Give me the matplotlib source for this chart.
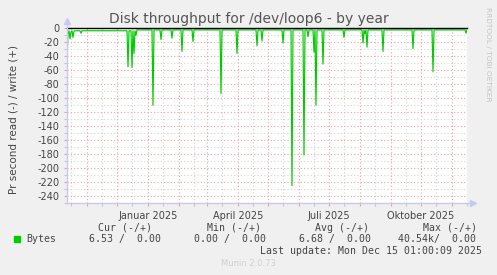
import matplotlib
matplotlib.use("Agg")
import matplotlib.pyplot as plt
import matplotlib.dates as mdates
from matplotlib.ticker import MultipleLocator, FuncFormatter
import numpy as np
import pandas as pd

W, H = 497, 275

# one value per day, read side (negative), write side is all zero
start_date = "2024-10-12"
end_date = "2025-11-16"
baseline_early = -3.5
baseline_late = -2.3
baseline_switch = "2024-12-21"

spike_dates = ["2024-10-12", "2024-10-13", "2024-10-15", "2024-10-16", "2024-10-18",
               "2024-10-19", "2024-10-26",
               "2024-12-12", "2024-12-16", "2024-12-18", "2024-12-20",
               "2025-01-06", "2025-01-14", "2025-01-25", "2025-02-04", "2025-02-15",
               "2025-03-15", "2025-03-31", "2025-04-20", "2025-04-25", "2025-05-16",
               "2025-05-25", "2025-06-06", "2025-06-10", "2025-06-16", "2025-06-18",
               "2025-06-25", "2025-07-16", "2025-08-04", "2025-08-06", "2025-08-08",
               "2025-08-24", "2025-09-23", "2025-10-13", "2025-11-15"]
spike_values = [-45, -8, -15, -5, -13,
                -4, -7,
                -55, -56, -36, -10,
                -110, -16, -14, -33, -19,
                -93, -36, -25, -18, -21,
                -225, -181, -12, -34, -110,
                -51, -13, -21, -8, -27,
                -33, -29, -62, -7]

quarter_names = {1: "Januar", 4: "April", 7: "Juli", 10: "Oktober"}
legend_headers = ["Cur (-/+)", "Min (-/+)", "Avg (-/+)", "Max (-/+)"]
legend_values = ["6.53 /  0.00", "0.00 /  0.00", "6.68 /  0.00", "40.54k/  0.00"]

days = pd.date_range(start_date, end_date, freq="D")
read = pd.Series(np.where(days < pd.Timestamp(baseline_switch), baseline_early, baseline_late), index=days)
read.loc[pd.to_datetime(spike_dates)] = spike_values

plt.rcParams["axes.unicode_minus"] = False
txt = "#444444"
axis_col = "#c8c8f4"

fig = plt.figure(figsize=(W / 100, H / 100), dpi=100, facecolor="#f0f0f0")
ax = fig.add_axes([67 / W, 1 - 203.3 / H, 400 / W, 175 / H])
ax.set_facecolor("white")

ax.plot(read.index, read.values, color="#00cc00", lw=0.85, zorder=3)
ax.axhline(0, color="black", lw=1.0, zorder=4, clip_on=False)

ax.set_xlim(pd.Timestamp(start_date), pd.Timestamp(end_date))
ax.set_ylim(-250, 0)

ax.xaxis.set_major_locator(mdates.MonthLocator())
ax.xaxis.set_minor_locator(mdates.MonthLocator(bymonthday=16))
ax.xaxis.set_major_formatter(FuncFormatter(
    lambda v, p: "%s %d" % (quarter_names[mdates.num2date(v).month], mdates.num2date(v).year)
    if mdates.num2date(v).month in quarter_names else ""))
ax.yaxis.set_major_locator(MultipleLocator(20))
ax.yaxis.set_minor_locator(MultipleLocator(10))
ax.yaxis.set_major_formatter(FuncFormatter(lambda v, p: "%d" % v if v >= -240 else ""))

ax.grid(which="major", color="#f0a0a0", lw=0.8, linestyle=(0, (1, 2)))
ax.grid(which="minor", color="#d4d4d4", lw=0.8, linestyle=(0, (1, 2)))
ax.set_axisbelow(True)

ax.tick_params(which="major", colors="#f0a0a0", length=2.5, width=0.8, labelcolor=txt, labelsize=7, pad=3)
ax.tick_params(which="minor", colors="#c8c8c8", length=2.5, width=0.8)
ax.tick_params(axis="x", pad=3)
for s in ax.spines.values():
    s.set_visible(False)

# axis lines with arrows
ax.plot([0, 0], [0, 1.04], transform=ax.transAxes, color=axis_col, lw=1, clip_on=False, zorder=5)
ax.plot([0, 1.01], [0, 0], transform=ax.transAxes, color=axis_col, lw=1, clip_on=False, zorder=5)
ax.plot([0], [1.04], marker="^", ms=4, color=axis_col, transform=ax.transAxes, clip_on=False)
ax.plot([1.015], [0], marker=">", ms=4, color=axis_col, transform=ax.transAxes, clip_on=False)


def put(x, y, s, **kw):
    fig.text(x / W, 1 - y / H, s, **kw)


put(248.5, 19, "Disk throughput for /dev/loop6 - by year", ha="center", va="center",
    fontsize=10, color="#555555")
put(14, 120, "Pr second read (-) / write (+)", ha="center", va="center", rotation=90,
    fontsize=7.5, color=txt)
put(488, 54, "RRDTOOL / TOBI OETIKER", ha="center", va="center", rotation=270,
    fontsize=5.3, color="#c4c4c4")

mono = dict(family="DejaVu Sans Mono", fontsize=7.1, color=txt, va="center")
for x, s in zip([98, 207, 315, 423], legend_headers):
    put(x, 227.7, s, ha="left", **mono)
for x, s in zip([89, 194, 299, 398], legend_values):
    put(x, 239.3, s, ha="left", **mono)
fig.patches.append(plt.Rectangle((14 / W, 1 - 242 / H), 6 / W, 6 / H,
                                 transform=fig.transFigure, color="#00cc00"))
put(26, 239.3, "Bytes", ha="left", **mono)
put(482, 251, "Last update: Mon Dec 15 01:00:09 2025", ha="right", **mono)
put(248, 264, "Munin 2.0.73", ha="center", va="center", fontsize=6, color="#d0d0d0")

fig.savefig("out.png", dpi=100, facecolor=fig.get_facecolor())
